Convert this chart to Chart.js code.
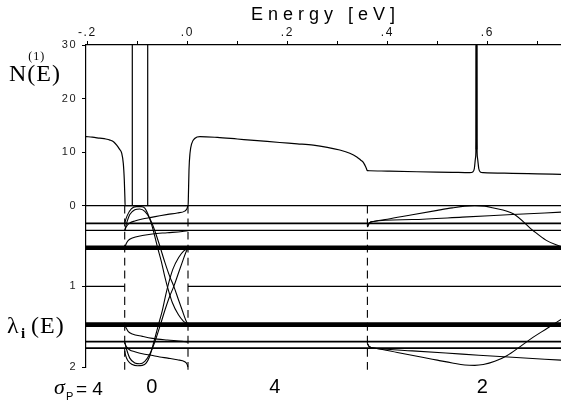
<!DOCTYPE html>
<html>
<head>
<meta charset="utf-8">
<script src="https://cdn.jsdelivr.net/npm/chart.js@4.4.0/dist/chart.umd.min.js"></script>
<style>
  html, body { margin: 0; padding: 0; background: #fff; }
  #wrap { width: 561px; height: 403px; position: relative; }
</style>
</head>
<body>
<div id="wrap"><canvas id="myChart"></canvas></div>
<script>

// energy axis (eV)
const eMin = -0.2026;
const eMax = 0.7474;
const eTicks = [-0.2, -0.1, 0, 0.1, 0.2, 0.3, 0.4, 0.5, 0.6, 0.7];
const nTicks = [0, 5, 10, 15, 20, 25, 30];
const lamTicks = [0, 1, 2];

// N(1)(E)
const dosE = [-0.2026, -0.19, -0.175, -0.163, -0.1546, -0.147, -0.1412, -0.136, -0.1312, -0.128, -0.126, -0.1248, -0.1244,
  0.0016, 0.0020, 0.0034, 0.0054, 0.0088, 0.0154, 0.0254, 0.06, 0.10, 0.14, 0.185, 0.22, 0.252, 0.28, 0.305, 0.325,
  0.339, 0.347, 0.352, 0.3555, 0.358, 0.3600, 0.365, 0.40, 0.459, 0.53, 0.565, 0.571, 0.574, 0.5765, 0.5775, 0.578,
  0.5788, 0.5793, 0.5803, 0.583, 0.586, 0.592, 0.65, 0.70, 0.7474];
const dosN = [12.9, 12.8, 12.6, 12.45, 12.25, 11.9, 11.3, 10.6, 9.8, 7.9, 4.8, 1.5, 0,
  0, 1.0, 6.7, 9.8, 11.6, 12.6, 12.9, 12.75, 12.45, 12.15, 11.8, 11.55, 11.3, 10.9, 10.4, 9.8,
  9.1, 8.5, 8.1, 7.5, 7.0, 6.55, 6.52, 6.45, 6.34, 6.23, 6.17, 6.3, 6.9, 9.0, 12, 40,
  40, 12, 9.0, 6.9, 6.3, 6.16, 6.05, 5.95, 5.86];

// delta peaks inside the gap, and the sharp resonance
const deltaE = [-0.110, -0.0792];
const peakE = 0.5784;

// band edges
const edgeE = [-0.1252, 0.0014, 0.3602];

// flat eigenvalues
const flatLam = [0, 0.22, 0.305, 0.52, 1.475, 1.685, 1.765];
const unitE = [eMin, -0.1252, -0.06, 0.0014, eMax];
const unitLam = [1, 1, null, 1, 1];

// eigenvalues inside the gap
const g1E = [-0.1250, -0.1240, -0.1200, -0.1120, -0.1020, -0.0920, -0.0850, -0.0790, -0.0720, -0.0650, -0.0590, -0.0520, -0.0450, -0.0400, -0.0300, -0.0180, -0.0080, 0.0010];
const g1L = [0.22, 0.19, 0.12, 0.04, 0.012, 0.012, 0.03, 0.10, 0.22, 0.38, 0.53, 0.69, 0.88, 1.00, 1.20, 1.35, 1.43, 1.47];
const g1bE = [-0.1250, -0.1240, -0.1190, -0.1100, -0.1000, -0.0900, -0.0820, -0.0760, -0.0700, -0.0630, -0.0570, -0.0500, -0.0440, -0.0390, -0.0290, -0.0170, -0.0070, 0.0010];
const g1bL = [1.80, 1.84, 1.92, 1.97, 1.985, 1.98, 1.95, 1.88, 1.76, 1.60, 1.46, 1.30, 1.13, 1.00, 0.79, 0.64, 0.56, 0.53];
const g2E = [-0.1250, -0.1215, -0.1150, -0.1050, -0.0950, -0.0850, -0.0750, -0.0650, -0.0550, -0.0450, -0.0350, -0.0270, -0.0180, -0.0100, -0.0030, 0.0010];
const g2L = [0.305, 0.22, 0.11, 0.05, 0.04, 0.07, 0.16, 0.31, 0.50, 0.70, 0.88, 1.00, 1.16, 1.30, 1.42, 1.47];
const g2bL = [1.695, 1.78, 1.89, 1.95, 1.96, 1.93, 1.84, 1.69, 1.50, 1.30, 1.12, 1.00, 0.84, 0.70, 0.58, 0.53];
const g3E = [-0.1250, -0.1220, -0.1150, -0.1050, -0.0900, -0.0720, -0.0550, -0.0390, -0.0200, -0.0050, -0.0005, 0.0012];
const g3L = [0.305, 0.26, 0.215, 0.19, 0.165, 0.145, 0.125, 0.108, 0.09, 0.067, 0.035, 0.0];
const g3bL = [1.70, 1.745, 1.79, 1.81, 1.835, 1.855, 1.875, 1.89, 1.91, 1.935, 1.965, 2.0];
const g4E = [-0.1250, -0.1220, -0.1180, -0.1100, -0.0900, -0.0700, -0.0400, -0.0100, 0.0010];
const g4L = [0.52, 0.47, 0.43, 0.40, 0.37, 0.35, 0.335, 0.32, 0.31];
const g4bL = [1.48, 1.52, 1.56, 1.59, 1.62, 1.645, 1.665, 1.68, 1.69];

// eigenvalues above the last edge
const r1E = [0.3602, 0.3640, 0.3720, 0.4000, 0.4500, 0.5000, 0.5300, 0.5550, 0.5750, 0.5950, 0.6100, 0.6520, 0.6920, 0.7180, 0.7474];
const r1L = [0.265, 0.215, 0.195, 0.168, 0.112, 0.058, 0.027, 0.005, 0.0, 0.005, 0.025, 0.10, 0.31, 0.43, 0.51];
const r2E = [0.3602, 0.3640, 0.3720, 0.4500, 0.5500, 0.6500, 0.7474];
const r2L = [0.265, 0.215, 0.195, 0.172, 0.142, 0.11, 0.08];
const r3E = [0.3602, 0.3640, 0.3790, 0.4200, 0.4700, 0.5000, 0.5300, 0.5550, 0.5750, 0.5920, 0.6150, 0.6390, 0.6650, 0.6920, 0.7200, 0.7474];
const r3L = [1.71, 1.75, 1.77, 1.82, 1.88, 1.915, 1.95, 1.975, 1.98, 1.97, 1.93, 1.86, 1.75, 1.63, 1.52, 1.41];
const r4E = [0.3602, 0.3640, 0.3790, 0.4500, 0.5500, 0.6500, 0.7474];
const r4L = [1.71, 1.75, 1.77, 1.80, 1.84, 1.88, 1.915];

// sigma_p per energy range
const sigmaVals = ["0", "4", "2"];
const sigmaE = [-0.071, 0.175, 0.59];


function pts(xs, ys) {
  return xs.map((x, i) => ({ x: x, y: ys[i] }));
}

// each dataset is clipped to its own y axis box, so leave a few px spare
const clipL = { top: 4, bottom: 4, left: 0, right: 0 };
const clipN = { top: 0, bottom: 3, left: 0, right: 0 };

function curve(xs, ys, axis, extra) {
  return Object.assign({
    data: pts(xs, ys),
    yAxisID: axis,
    borderColor: "#000",
    borderWidth: 1.1,
    pointRadius: 0,
    cubicInterpolationMode: "monotone",
    spanGaps: false,
    clip: axis === "yL" ? clipL : clipN,
  }, extra || {});
}

const datasets = [];
const flatWidth = [1.3, 1.8, 1.3, 4.5, 4.8, 1.8, 1.8];
flatLam.forEach((l, i) => {
  datasets.push(curve([eMin, eMax], [l, l], "yL", { borderWidth: flatWidth[i] }));
});
datasets.push(curve(unitE, unitLam, "yL", { borderWidth: 1.1 }));

[[g1E, g1L], [g1bE, g1bL], [g2E, g2L], [g2E, g2bL], [g3E, g3L], [g3E, g3bL], [g4E, g4L], [g4E, g4bL],
 [r1E, r1L], [r2E, r2L], [r3E, r3L], [r4E, r4L]].forEach(c => {
  datasets.push(curve(c[0], c[1], "yL"));
});

edgeE.forEach(e => {
  datasets.push(curve([e, e], [0, 2.06], "yL", { borderDash: [8, 5], borderWidth: 1.1, clip: false, tension: 0 }));
});

datasets.push(curve(dosE, dosN, "yN", { borderWidth: 1.2 }));
deltaE.forEach(e => {
  datasets.push(curve([e, e], [0, 31], "yN", { borderWidth: 1.2, tension: 0 }));
});
datasets.push(curve([peakE, peakE], [10.5, 31], "yN", { borderColor: "#666", borderWidth: 2.6, tension: 0 }));


const textPlugin = {
  id: "panelText",
  beforeDraw(chart) {
    chart.ctx.letterSpacing = "1.5px";
  },
  afterDraw(chart) {
    const ctx = chart.ctx;
    const area = chart.chartArea;
    const x = chart.scales.x;
    ctx.save();
    ctx.fillStyle = "#000";
    ctx.textBaseline = "alphabetic";

    ctx.letterSpacing = "5px";
    ctx.textAlign = "center";
    ctx.font = '18px "Liberation Sans"';
    ctx.fillText("Energy [eV]", (area.left + area.right) / 2 + 2, 20);

    ctx.letterSpacing = "1px";
    ctx.textAlign = "left";
    ctx.font = '24px "Liberation Serif"';
    ctx.fillText("N", 9, 81);
    const wN = ctx.measureText("N").width;
    ctx.fillText("(E)", 9 + wN, 81);
    ctx.font = '12px "Liberation Serif"';
    ctx.fillText("(1)", 9 + wN + 1, 60);

    ctx.font = '24px "Liberation Serif"';
    ctx.fillText("\u03bb", 7, 333);
    ctx.font = 'bold 15px "Liberation Serif"';
    ctx.fillText("i", 21, 338);
    ctx.font = '24px "Liberation Serif"';
    ctx.fillText("(E)", 31, 333);

    ctx.letterSpacing = "0px";
    ctx.font = 'italic 22px "Liberation Serif"';
    ctx.fillText("\u03c3", 54, 394);
    ctx.font = '11px "Liberation Sans"';
    ctx.fillText("P", 66, 400);
    ctx.font = '19px "Liberation Sans"';
    ctx.fillText("= 4", 76, 395);

    ctx.textAlign = "center";
    ctx.font = '20px "Liberation Sans"';
    sigmaVals.forEach((s, i) => {
      ctx.fillText(s, x.getPixelForValue(sigmaE[i]), 393);
    });
    ctx.restore();
    ctx.letterSpacing = "0px";
  },
};

function eLabel(v) {
  const k = Math.round(v * 10);
  if (k % 2 !== 0) return "";
  if (k === 0) return ".0";
  return (k < 0 ? "-" : "") + "." + Math.abs(k);
}

const ctx = document.getElementById("myChart");
new Chart(ctx, {
  type: "line",
  data: { datasets: datasets },
  plugins: [textPlugin],
  options: {
    responsive: true,
    maintainAspectRatio: false,
    animation: false,
    layout: { padding: { left: 0, right: 0, top: 0, bottom: 36 } },
    plugins: {
      legend: { display: false },
      tooltip: { enabled: false },
    },
    scales: {
      x: {
        type: "linear",
        position: "top",
        min: eMin,
        max: eMax,
        afterBuildTicks: (s) => { s.ticks = eTicks.map(v => ({ value: v })); },
        afterFit: (s) => { s.height = 45; },
        ticks: {
          callback: (v) => eLabel(v),
          autoSkip: false,
          maxRotation: 0,
          padding: 1,
          color: "#111",
          font: { family: "Liberation Sans", size: 12 },
        },
        grid: { drawOnChartArea: false, drawTicks: true, tickLength: 4, color: "#000", lineWidth: 1 },
        border: { color: "#000", width: 1.2 },
      },
      yL: {
        type: "linear",
        position: "left",
        stack: "left",
        stackWeight: 161.3,
        min: 0,
        max: 2,
        reverse: true,
        afterBuildTicks: (s) => { s.ticks = lamTicks.map(v => ({ value: v })); },
        afterFit: (s) => { s.width = 86; },
        ticks: {
          callback: (v) => (v === 0 ? "" : String(v)),
          padding: 5,
          color: "#222",
          font: { family: "Liberation Sans", size: 11 },
        },
        grid: { drawOnChartArea: false, tickLength: 4, color: "#000" },
        border: { color: "#000", width: 1.2 },
      },
      yN: {
        type: "linear",
        position: "left",
        stack: "left",
        stackWeight: 160.7,
        min: 0,
        max: 30,
        afterBuildTicks: (s) => { s.ticks = nTicks.map(v => ({ value: v })); },
        afterFit: (s) => { s.width = 86; },
        ticks: {
          callback: (v) => (v % 10 === 0 ? String(v) : ""),
          padding: 5,
          color: "#222",
          font: { family: "Liberation Sans", size: 11 },
        },
        grid: { drawOnChartArea: false, tickLength: 4, color: "#000" },
        border: { color: "#000", width: 1.2 },
      },
    },
  },
});

</script>
</body>
</html>
